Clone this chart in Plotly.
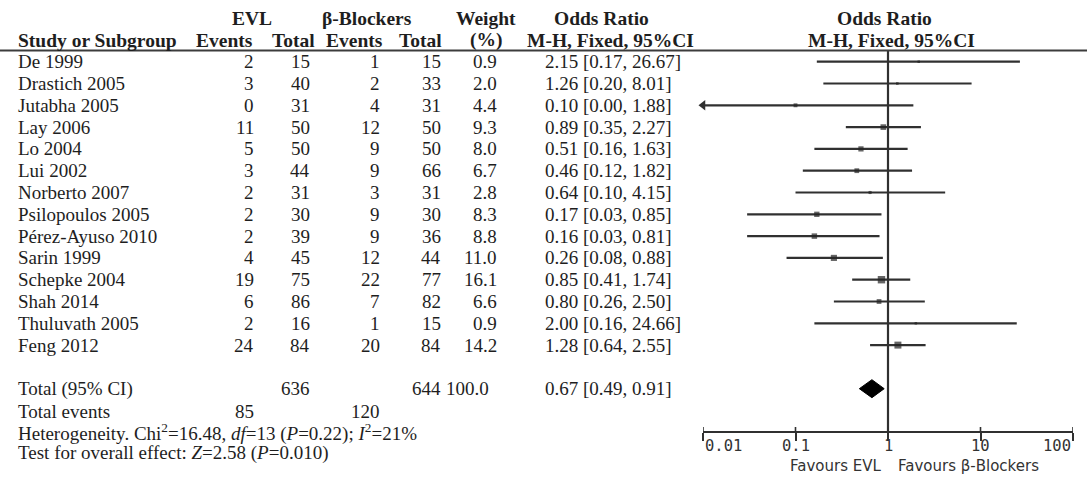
import numpy as np
import plotly.graph_objects as go

# ---------------- data ----------------
studies = ["De 1999", "Drastich 2005", "Jutabha 2005", "Lay 2006", "Lo 2004", "Lui 2002",
           "Norberto 2007", "Psilopoulos 2005", "Pérez-Ayuso 2010", "Sarin 1999",
           "Schepke 2004", "Shah 2014", "Thuluvath 2005", "Feng 2012"]
evl_events = [2, 3, 0, 11, 5, 3, 2, 2, 2, 4, 19, 6, 2, 24]
evl_total = [15, 40, 31, 50, 50, 44, 31, 30, 39, 45, 75, 86, 16, 84]
bb_events = [1, 2, 4, 12, 9, 9, 3, 9, 9, 12, 22, 7, 1, 20]
bb_total = [15, 33, 31, 50, 50, 66, 31, 30, 36, 44, 77, 82, 15, 84]
weight = [0.9, 2.0, 4.4, 9.3, 8.0, 6.7, 2.8, 8.3, 8.8, 11.0, 16.1, 6.6, 0.9, 14.2]
odds = [2.15, 1.26, 0.10, 0.89, 0.51, 0.46, 0.64, 0.17, 0.16, 0.26, 0.85, 0.80, 2.00, 1.28]
ci_low = [0.17, 0.20, 0.00, 0.35, 0.16, 0.12, 0.10, 0.03, 0.03, 0.08, 0.41, 0.26, 0.16, 0.64]
ci_high = [26.67, 8.01, 1.88, 2.27, 1.63, 1.82, 4.15, 0.85, 0.81, 0.88, 1.74, 2.50, 24.66, 2.55]

total_label = "Total (95% CI)"
total_evl_n = 636
total_bb_n = 644
total_weight = 100.0
total_or = 0.67
total_low = 0.49
total_high = 0.91
total_evl_events = 85
total_bb_events = 120

heterogeneity = "Heterogeneity. Chi<sup>2</sup>=16.48, <i>df</i>=13 (<i>P</i>=0.22); <i>I</i><sup>2</sup>=21%"
overall = "Test for overall effect: <i>Z</i>=2.58 (<i>P</i>=0.010)"

tick_vals = [0.01, 0.1, 1, 10, 100]
tick_labels = ["0.01", "0.1", "1", "10", "100"]
favours_left = "Favours EVL"
favours_right = "Favours β-Blockers"

# ---------------- layout constants ----------------
W, H = 1090, 478
ROW0, ROWSTEP = 61.7, 21.8
row_y = [ROW0 + ROWSTEP * i for i in range(len(studies))]
y_total = ROW0 + ROWSTEP * 15
y_events = y_total + 22.5
y_het = y_events + 21.0
y_test = y_het + 21.0
y_axisline = 432
RULE_Y = 50.5

SERIF = "Liberation Serif"
TXT = "#1e1e1e"
LINE = "#303030"
FS = 19

xmin = tick_vals[0]
xmax = tick_vals[-1]

fig = go.Figure()

# CI lines
cx, cy = [], []
for lo, hi, y in zip(ci_low, ci_high, row_y):
    cx += [max(lo, xmin), hi, None]
    cy += [y, y, None]
fig.add_trace(go.Scatter(x=cx, y=cy, mode="lines", line=dict(color=LINE, width=2.2),
                         hoverinfo="skip", showlegend=False))

# arrows for truncated CIs
ax_, ay_ = [], []
for lo, y in zip(ci_low, row_y):
    if lo < xmin:
        ax_.append(xmin)
        ay_.append(y)
fig.add_trace(go.Scatter(x=ax_, y=ay_, mode="markers",
                         marker=dict(symbol="triangle-left", size=9, color=LINE),
                         cliponaxis=False, hoverinfo="skip", showlegend=False))

# squares (area proportional to weight)
fig.add_trace(go.Scatter(x=odds, y=row_y, mode="markers",
                         marker=dict(symbol="square", color="#242424",
                                     size=[max(2.5, 1.85 * np.sqrt(w)) for w in weight],
                                     line=dict(width=0)),
                         hoverinfo="skip", showlegend=False))

# diamond for total
fig.add_trace(go.Scatter(x=[total_low, total_or, total_high, total_or, total_low],
                         y=[y_total, y_total - 9, y_total, y_total + 9, y_total],
                         mode="lines", fill="toself", fillcolor="#000000",
                         line=dict(color="#000000", width=1),
                         hoverinfo="skip", showlegend=False))

shapes = []
# line of no effect (shapes on log axes take data values)
shapes.append(dict(type="line", xref="x", yref="y", x0=1, x1=1,
                   y0=RULE_Y, y1=y_axisline, line=dict(color=LINE, width=2.2)))
# header rule
shapes.append(dict(type="line", xref="paper", yref="y", x0=0, x1=1087 / W,
                   y0=RULE_Y, y1=RULE_Y, line=dict(color="#3c3c3c", width=2.2)))
# upward tick stubs
for t in tick_vals:
    shapes.append(dict(type="line", xref="x", yref="y", x0=t, x1=t,
                       y0=y_axisline, y1=y_axisline - 5, line=dict(color=LINE, width=1.6)))

ann = []


def px(x):
    return x / W


def text(x, y, s, anchor="left", bold=False, size=FS, font=SERIF, color=TXT, xref="paper"):
    ann.append(dict(x=x, y=y, xref=xref, yref="y", text=("<b>%s</b>" % s) if bold else s,
                    showarrow=False, xanchor=anchor, yanchor="middle",
                    font=dict(family=font, size=size, color=color)))


# headers
HY1, HY2 = 18, 40
HB = 19.5
text(px(252), HY1, "EVL", "center", True, HB)
text(px(367), HY1, "β-Blockers", "center", True, HB)
text(px(486), HY1, "Weight", "center", True, HB)
text(px(601), HY1, "Odds Ratio", "center", True, HB)
text(px(884), HY1, "Odds Ratio", "center", True, HB)
text(px(16), HY2, "Study or Subgroup", "left", True, HB)
text(px(224), HY2, "Events", "center", True, HB)
text(px(293), HY2, "Total", "center", True, HB)
text(px(354), HY2, "Events", "center", True, HB)
text(px(420), HY2, "Total", "center", True, HB)
text(px(486), HY2, "(%)", "center", True, HB)
text(px(610), HY2, "M-H, Fixed, 95%CI", "center", True, HB)
text(px(891), HY2, "M-H, Fixed, 95%CI", "center", True, HB)

# study rows
for i, y in enumerate(row_y):
    text(px(16), y, studies[i], "left")
    text(px(256), y, str(evl_events[i]), "right")
    text(px(312), y, str(evl_total[i]), "right")
    text(px(382), y, str(bb_events[i]), "right")
    text(px(443), y, str(bb_total[i]), "right")
    text(px(499), y, "%.1f" % weight[i], "right")
    text(px(543), y, "%.2f [%.2f, %.2f]" % (odds[i], ci_low[i], ci_high[i]), "left")

# totals
text(px(16), y_total, total_label, "left")
text(px(312), y_total, str(total_evl_n), "right")
text(px(443), y_total, str(total_bb_n), "right")
text(px(491), y_total, "%.1f" % total_weight, "right")
text(px(543), y_total, "%.2f [%.2f, %.2f]" % (total_or, total_low, total_high), "left")
text(px(16), y_events, "Total events", "left")
text(px(256), y_events, str(total_evl_events), "right")
text(px(382), y_events, str(total_bb_events), "right")
text(px(16), y_het, heterogeneity, "left")
text(px(16), y_test, overall, "left")

# axis tick labels (first left-aligned, last right-aligned); annotations on log axes use log10
for k, (t, lab) in enumerate(zip(tick_vals, tick_labels)):
    anchor = "left" if k == 0 else ("right" if k == len(tick_vals) - 1 else "center")
    ann.append(dict(x=np.log10(t), y=446, xref="x", yref="y", text=lab, showarrow=False,
                    xanchor=anchor, yanchor="middle",
                    font=dict(family="DejaVu Sans Mono", size=15.5, color="#333333")))

# favours labels
ann.append(dict(x=np.log10(1), y=466, xref="x", yref="y", text=favours_left, showarrow=False,
                xanchor="right", yanchor="middle", xshift=-5,
                font=dict(family="DejaVu Sans", size=15, color="#333333")))
ann.append(dict(x=np.log10(1), y=466, xref="x", yref="y", text=favours_right, showarrow=False,
                xanchor="left", yanchor="middle", xshift=8,
                font=dict(family="DejaVu Sans", size=15, color="#333333")))

fig.update_layout(
    width=W, height=H, autosize=False,
    margin=dict(l=0, r=0, t=0, b=0, pad=0),
    paper_bgcolor="white", plot_bgcolor="white",
    showlegend=False,
    xaxis=dict(type="log", range=[np.log10(xmin), np.log10(xmax)],
               domain=[703 / W, 1073 / W], anchor="free", position=(H - y_axisline) / H,
               showline=True, linecolor=LINE, linewidth=1.6,
               ticks="outside", ticklen=8, tickwidth=1.6, tickcolor=LINE,
               tickvals=tick_vals, showticklabels=False, showgrid=False, zeroline=False),
    yaxis=dict(range=[H, 0], domain=[0, 1], autorange=False, visible=False,
               showgrid=False, zeroline=False),
    shapes=shapes,
    annotations=ann,
)

fig.write_html("out.html", config={"displayModeBar": False},
               post_script="document.body.style.margin='0';")
